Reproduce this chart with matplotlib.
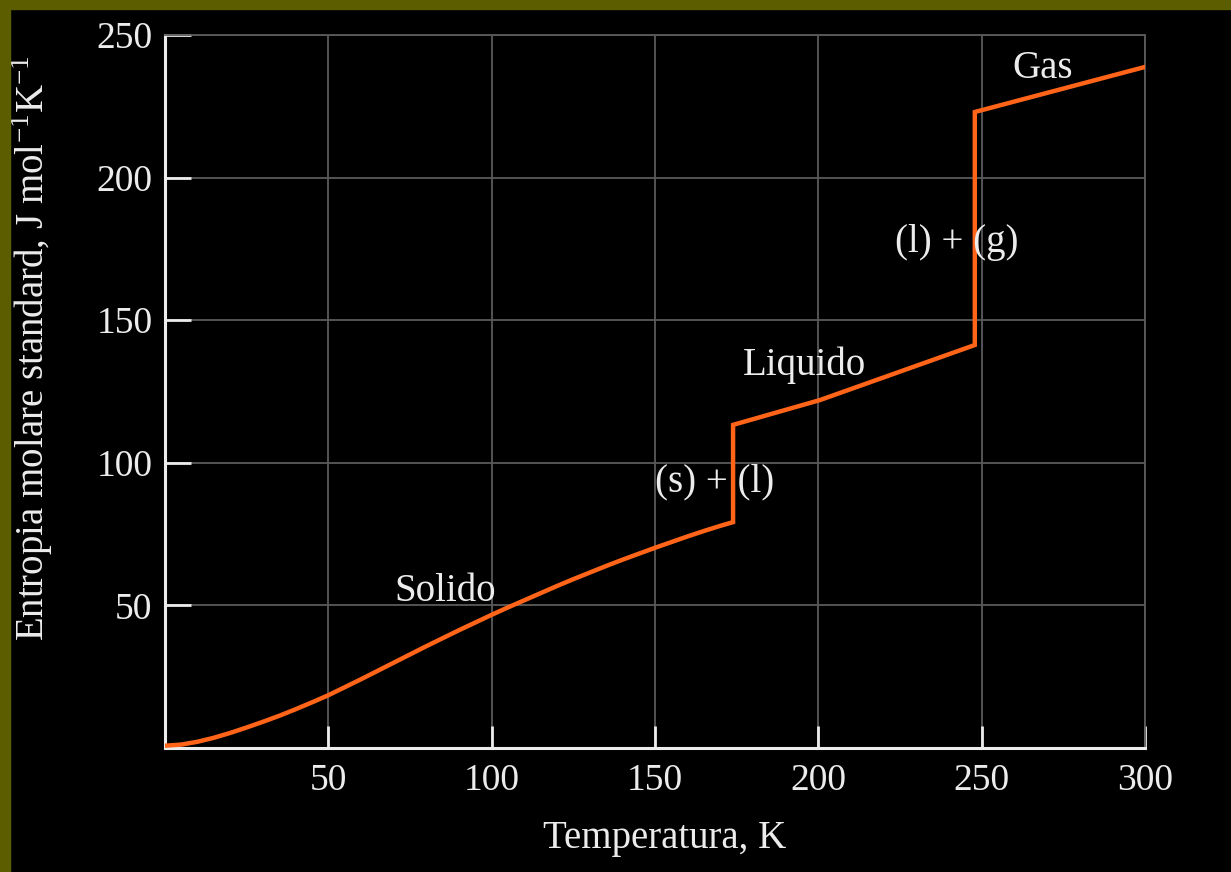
import matplotlib
matplotlib.use('Agg')
import matplotlib.pyplot as plt
from matplotlib.patches import Rectangle

# standard molar entropy vs temperature
# solid branch (curved), then melting jump, liquid, boiling jump, gas
solid_T = [0, 5, 10, 15, 20, 25, 30, 35, 40, 45, 50, 55, 60, 65, 70, 75, 80, 85, 90, 95,
           100, 105, 110, 115, 120, 125, 130, 135, 140, 145, 150, 155, 160, 165, 170, 173.9]
solid_S = [0.8, 1.2, 2.2, 3.6, 5.3, 7.2, 9.2, 11.3, 13.6, 16.0, 18.5, 21.3, 24.1, 27.0, 29.9,
           32.8, 35.7, 38.5, 41.3, 44.0, 46.7, 49.3, 51.8, 54.3, 56.8, 59.2, 61.5, 63.8, 66.0,
           68.1, 70.2, 72.2, 74.2, 76.1, 77.9, 79.2]
liquid_T = [173.9, 200.5, 247.9]
liquid_S = [113.3, 122.0, 141.3]
gas_T = [247.9, 300]
gas_S = [223.0, 238.8]

x_ticks = [50, 100, 150, 200, 250, 300]
y_ticks = [50, 100, 150, 200, 250]

# phase labels: text, T, S
labels = [
    ('Solido', 85.7, 54.7),
    ('(s) + (l)', 168.3, 93.3),
    ('Liquido', 195.9, 134.3),
    ('(l) + (g)', 242.4, 177.4),
    ('Gas', 268.7, 238.4),
]

plt.rcParams['font.family'] = ['Liberation Serif', 'DejaVu Serif']
plt.rcParams['mathtext.fontset'] = 'custom'
plt.rcParams['mathtext.rm'] = 'Liberation Serif'

fg = '#ececec'
grid_c = '#5a5a5a'
olive = '#5c5c00'

fig = plt.figure(figsize=(12.31, 8.72), dpi=100, facecolor='black')
# olive frame strips on the left and top
fig.patches.append(Rectangle((0, 0), 10 / 1231, 1, transform=fig.transFigure,
                             color=olive, zorder=0))
fig.patches.append(Rectangle((0, 1 - 9 / 872), 1, 9 / 872, transform=fig.transFigure,
                             color=olive, zorder=0))

ax = fig.add_axes([165 / 1231, 124 / 872, 980 / 1231, 713 / 872])
ax.set_facecolor('black')

T = solid_T + liquid_T + gas_T
S = solid_S + liquid_S + gas_S
ax.plot(T, S, color='#ff6418', lw=3.2, solid_joinstyle='miter', zorder=3)

ax.set_xlim(0, 300)
ax.set_ylim(0, 250)
ax.set_xticks(x_ticks)
ax.set_yticks(y_ticks)
ax.grid(True, color=grid_c, lw=1.3)
ax.set_axisbelow(True)

for side in ['left', 'bottom']:
    ax.spines[side].set_color(fg)
    ax.spines[side].set_linewidth(2.2)
for side in ['top', 'right']:
    ax.spines[side].set_color(grid_c)
    ax.spines[side].set_linewidth(1.3)

ax.tick_params(axis='y', direction='in', length=19, width=2, color=fg,
               labelcolor=fg, labelsize=27, pad=9)
ax.tick_params(axis='x', direction='in', length=16, width=2, color=fg,
               labelcolor=fg, labelsize=27, pad=11)

ax.set_xlabel('Temperatura, K', color=fg, fontsize=28)
ax.set_ylabel('Entropia molare standard, J mol$^{-1}$K$^{-1}$', color=fg, fontsize=28)
ax.xaxis.set_label_coords(0.51, -0.101)
ax.yaxis.set_label_coords(-0.112, 0.561)

for txt, t, s in labels:
    ax.text(t, s, txt, color=fg, fontsize=28, ha='center', va='center', zorder=4)

fig.savefig('out.png', dpi=100, facecolor='black')
